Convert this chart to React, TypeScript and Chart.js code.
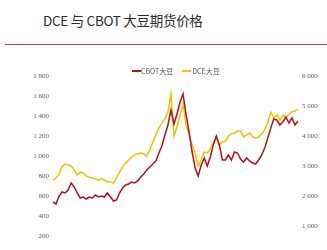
import React, { useEffect, useRef } from "react";
import { Chart, registerables } from "chart.js";

Chart.register(...registerables);

const titleText = "DCE 与 CBOT 大豆期货价格";
const seriesNames = ["CBOT大豆", "DCE大豆"];

const cbotValues = [
  540, 520, 600, 640, 630, 660, 730, 690, 630, 580,
  590, 570, 590, 580, 610, 590, 600, 590, 630, 590,
  550, 560, 630, 680, 710, 720, 740, 730, 750, 790,
  820, 860, 890, 920, 950, 1030, 1100, 1210, 1310, 1460,
  1320, 1420, 1540, 1620, 1410, 1240, 1040, 880, 800, 910,
  980, 900, 990, 1110, 1200, 1110, 960, 960, 1010, 960,
  1040, 1030, 970, 940, 980, 950, 930, 920, 960, 1010,
  1080, 1180, 1280, 1370, 1360, 1310, 1340, 1390, 1330, 1380,
  1310, 1350,
];

const dceValues = [
  2530, 2600, 2730, 2970, 3070, 3030, 3000, 2870, 2700, 2800,
  2770, 2670, 2630, 2600, 2570, 2530, 2570, 2530, 2470, 2470,
  2430, 2600, 2800, 2970, 3100, 3200, 3300, 3370, 3400, 3430,
  3400, 3330, 3530, 3800, 4030, 4270, 4430, 4570, 4800, 5400,
  4000, 4300, 4700, 5070, 4370, 4030, 3700, 3430, 3000, 3200,
  3470, 3430, 3570, 3770, 3930, 3700, 3800, 3830, 4000, 4070,
  4100, 4170, 4170, 3970, 4030, 4100, 3970, 3930, 3970, 4070,
  4200, 4470, 4800, 4600, 4700, 4530, 4700, 4630, 4730, 4800,
  4830, 4900,
];

const periods: string[] = cbotValues.map((_, i) => `P${i + 1}`);

const leftTicks = [200, 400, 600, 800, 1000, 1200, 1400, 1600, 1800];
const rightTicks = [1000, 2000, 3000, 4000, 5000, 6000];

const CBOT_COLOR = "#b3141d";
const DCE_COLOR = "#f2c000";

const fmt = (v: number) =>
  v >= 1000 ? `${Math.floor(v / 1000)} ${String(v % 1000).padStart(3, "0")}` : String(v);

export default function App() {
  const ref = useRef<HTMLCanvasElement | null>(null);

  useEffect(() => {
    if (!ref.current) return;
    const chart = new Chart(ref.current, {
      type: "line",
      data: {
        labels: periods,
        datasets: [
          {
            label: seriesNames[0],
            data: cbotValues,
            borderColor: CBOT_COLOR,
            backgroundColor: CBOT_COLOR,
            borderWidth: 1.5,
            pointRadius: 0,
            tension: 0,
            yAxisID: "yL",
          },
          {
            label: seriesNames[1],
            data: dceValues,
            borderColor: DCE_COLOR,
            backgroundColor: DCE_COLOR,
            borderWidth: 1.5,
            pointRadius: 0,
            tension: 0,
            yAxisID: "yR",
          },
        ],
      },
      options: {
        responsive: false,
        animation: false,
        layout: { padding: { top: 76, bottom: 14, left: 0, right: 0 } },
        plugins: { legend: { display: false }, tooltip: { enabled: false }, title: { display: false } },
        scales: {
          x: { display: false, offset: false },
          yL: {
            position: "left",
            min: leftTicks[0],
            max: leftTicks[leftTicks.length - 1],
            afterBuildTicks: (s: any) => {
              s.ticks = leftTicks.map((v) => ({ value: v }));
            },
            afterFit: (s: any) => {
              s.width = 53;
            },
            grid: { display: false, drawTicks: false },
            border: { display: false },
            ticks: {
              padding: 4,
              color: "#5a5a5a",
              font: { family: "'Liberation Serif', serif", size: 7 },
              callback: (v: any) => fmt(Number(v)),
            },
          },
          yR: {
            position: "right",
            min: 667,
            max: 6000,
            afterBuildTicks: (s: any) => {
              s.ticks = rightTicks.map((v) => ({ value: v }));
            },
            afterFit: (s: any) => {
              s.width = 29;
            },
            grid: { display: false, drawTicks: false },
            border: { display: false },
            ticks: {
              padding: 4,
              color: "#5a5a5a",
              font: { family: "'Liberation Serif', serif", size: 7 },
              callback: (v: any) => fmt(Number(v)),
            },
          },
        },
      },
    });
    return () => chart.destroy();
  }, []);

  const legendText: React.CSSProperties = {
    fontFamily: "'Noto Sans CJK SC', sans-serif",
    fontSize: 7,
    color: "#555",
    lineHeight: "8px",
  };

  return (
    <div style={{ position: "fixed", left: 0, top: 0, width: 327, height: 250, background: "#fff", overflow: "hidden" }}>
      <div
        style={{
          position: "absolute",
          left: 43,
          top: 11,
          fontFamily: "'Noto Sans CJK SC', sans-serif",
          fontSize: 13.5,
          fontWeight: 400,
          letterSpacing: -0.3,
          color: "#2a2a2a",
          whiteSpace: "nowrap",
          lineHeight: "18px",
        }}
      >
        {titleText}
      </div>
      <div style={{ position: "absolute", left: 5, top: 44, width: 322, height: 1, background: "#c8453f" }} />
      <canvas ref={ref} width={327} height={250} style={{ position: "absolute", left: 0, top: 0 }} />
      <div style={{ position: "absolute", left: 132, top: 67, display: "flex", alignItems: "center", whiteSpace: "nowrap" }}>
        <span style={{ display: "inline-block", width: 9, height: 1.5, background: CBOT_COLOR }} />
        <span style={{ ...legendText, marginLeft: 0 }}>{seriesNames[0]}</span>
        <span style={{ display: "inline-block", width: 9, height: 1.5, background: DCE_COLOR, marginLeft: 9 }} />
        <span style={{ ...legendText, marginLeft: 1 }}>{seriesNames[1]}</span>
      </div>
    </div>
  );
}
